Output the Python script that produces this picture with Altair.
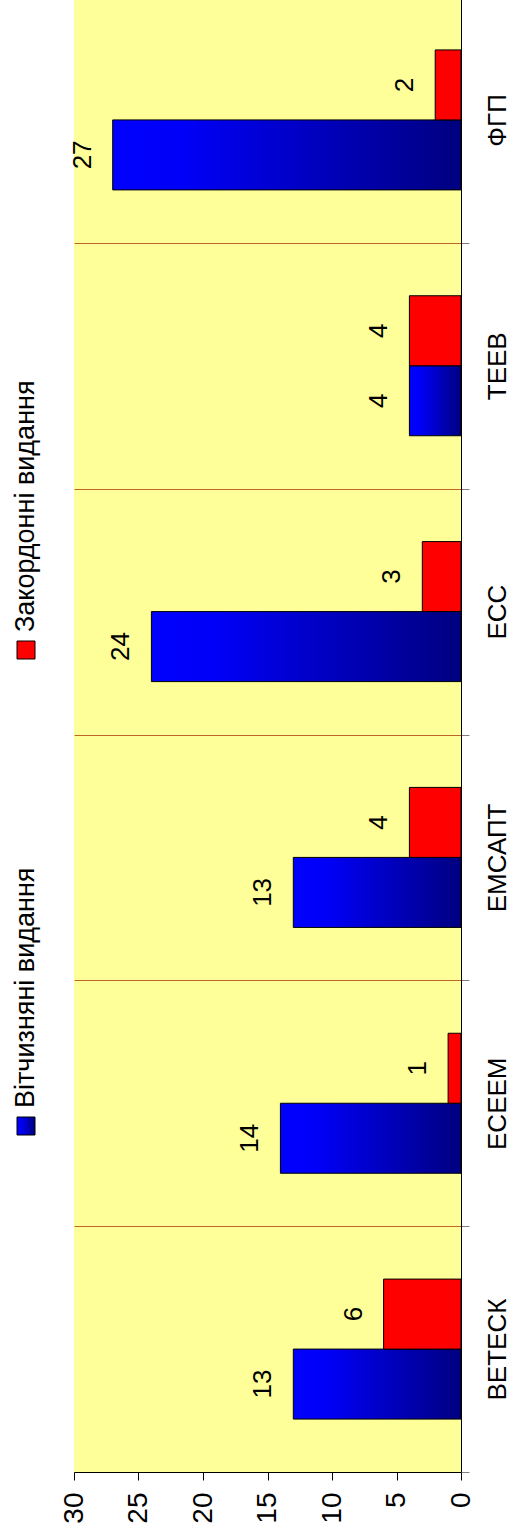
import altair as alt
import pandas as pd

# Publications per section: domestic vs. foreign editions
categories = ["ВЕТЕСК", "ЕСЕЕМ", "ЕМСАПТ", "ЕСС", "ТЕЕВ", "ФГП"]
domestic = [13, 14, 13, 24, 4, 27]
foreign = [6, 1, 4, 3, 4, 2]
series_names = ["Вітчизняні видання", "Закордонні видання"]
value_ticks = [0, 5, 10, 15, 20, 25, 30]

rows = []
for c, d, f in zip(categories, domestic, foreign):
    rows.append({"cat": c, "series": series_names[0], "value": d})
    rows.append({"cat": c, "series": series_names[1], "value": f})
df = pd.DataFrame(rows)

FONT = "Liberation Sans"
FS = 26
cat_order = categories[::-1]
offset_order = [series_names[1], series_names[0]]

blue_grad = alt.Gradient(
    gradient="linear",
    stops=[
        alt.GradientStop(color="#0000FF", offset=0),
        alt.GradientStop(color="#0000F8", offset=0.2),
        alt.GradientStop(color="#000080", offset=1),
    ],
    x1=0, x2=1, y1=0, y2=0,
)

x_enc = alt.X(
    "value:Q",
    scale=alt.Scale(domain=[0, 30], reverse=True, nice=False, zero=True),
    axis=alt.Axis(
        values=value_ticks, orient="bottom", title=None, grid=False,
        labelAngle=270, labelAlign="right", labelBaseline="middle",
        labelPadding=12, tickSize=8, tickColor="black", domainColor="black",
        labelFontSize=28, labelFont=FONT, labelColor="black",
    ),
)
y_enc = alt.Y(
    "cat:N", sort=cat_order,
    scale=alt.Scale(paddingInner=0, paddingOuter=0),
    axis=alt.Axis(
        orient="right", title=None, grid=True, gridColor="#C0642C",
        gridOpacity=1, tickBand="extent", tickSize=8, tickColor="#808080",
        domainColor="black", labelAngle=270, labelAlign="center",
        labelBaseline="middle", labelPadding=28, labelFontSize=FS,
        labelFont=FONT, labelColor="black",
    ),
)
yoff = alt.YOffset(
    "series:N", sort=offset_order,
    scale=alt.Scale(domain=offset_order, paddingInner=0, paddingOuter=0.756),
)

base = alt.Chart(df).encode(x=x_enc, y=y_enc, yOffset=yoff)

bars_dom = base.transform_filter(
    alt.datum.series == series_names[0]
).mark_bar(fill=blue_grad, stroke="black", strokeWidth=1)

bars_for = base.transform_filter(
    alt.datum.series == series_names[1]
).mark_bar(fill="#FF0000", stroke="black", strokeWidth=1)

labels = base.mark_text(
    angle=270, align="center", baseline="middle", dy=-30,
    fontSize=FS, font=FONT, color="black",
).encode(text="value:Q")

# Legend drawn to the left of the plot, reading bottom-to-top
leg_dom = pd.DataFrame({"label": [series_names[0]]})
leg_for = pd.DataFrame({"label": [series_names[1]]})

sq_dom = alt.Chart(leg_dom).mark_rect(fill=blue_grad, stroke="black", strokeWidth=1).encode(
    x=alt.value(-57), x2=alt.value(-39), y=alt.value(1120), y2=alt.value(1138)
)
sq_for = alt.Chart(leg_for).mark_rect(fill="#FF0000", stroke="black", strokeWidth=1).encode(
    x=alt.value(-57), x2=alt.value(-39), y=alt.value(644), y2=alt.value(662)
)
txt_dom = alt.Chart(leg_dom).mark_text(
    angle=270, align="left", baseline="middle", fontSize=27, font=FONT, color="black"
).encode(x=alt.value(-48), y=alt.value(1111), text="label:N")
txt_for = alt.Chart(leg_for).mark_text(
    angle=270, align="left", baseline="middle", fontSize=27, font=FONT, color="black"
).encode(x=alt.value(-48), y=alt.value(635), text="label:N")

chart = alt.layer(
    bars_dom, bars_for, labels, sq_dom, sq_for, txt_dom, txt_for
).properties(
    width=387, height=1475,
    autosize=alt.AutoSizeParams(type="none"),
    padding={"left": 74, "top": -3, "right": 57, "bottom": 56},
).configure_view(
    fill="#FFFF99", strokeWidth=0
)

chart.save("out.html", embed_options={"renderer": "svg", "actions": False})
